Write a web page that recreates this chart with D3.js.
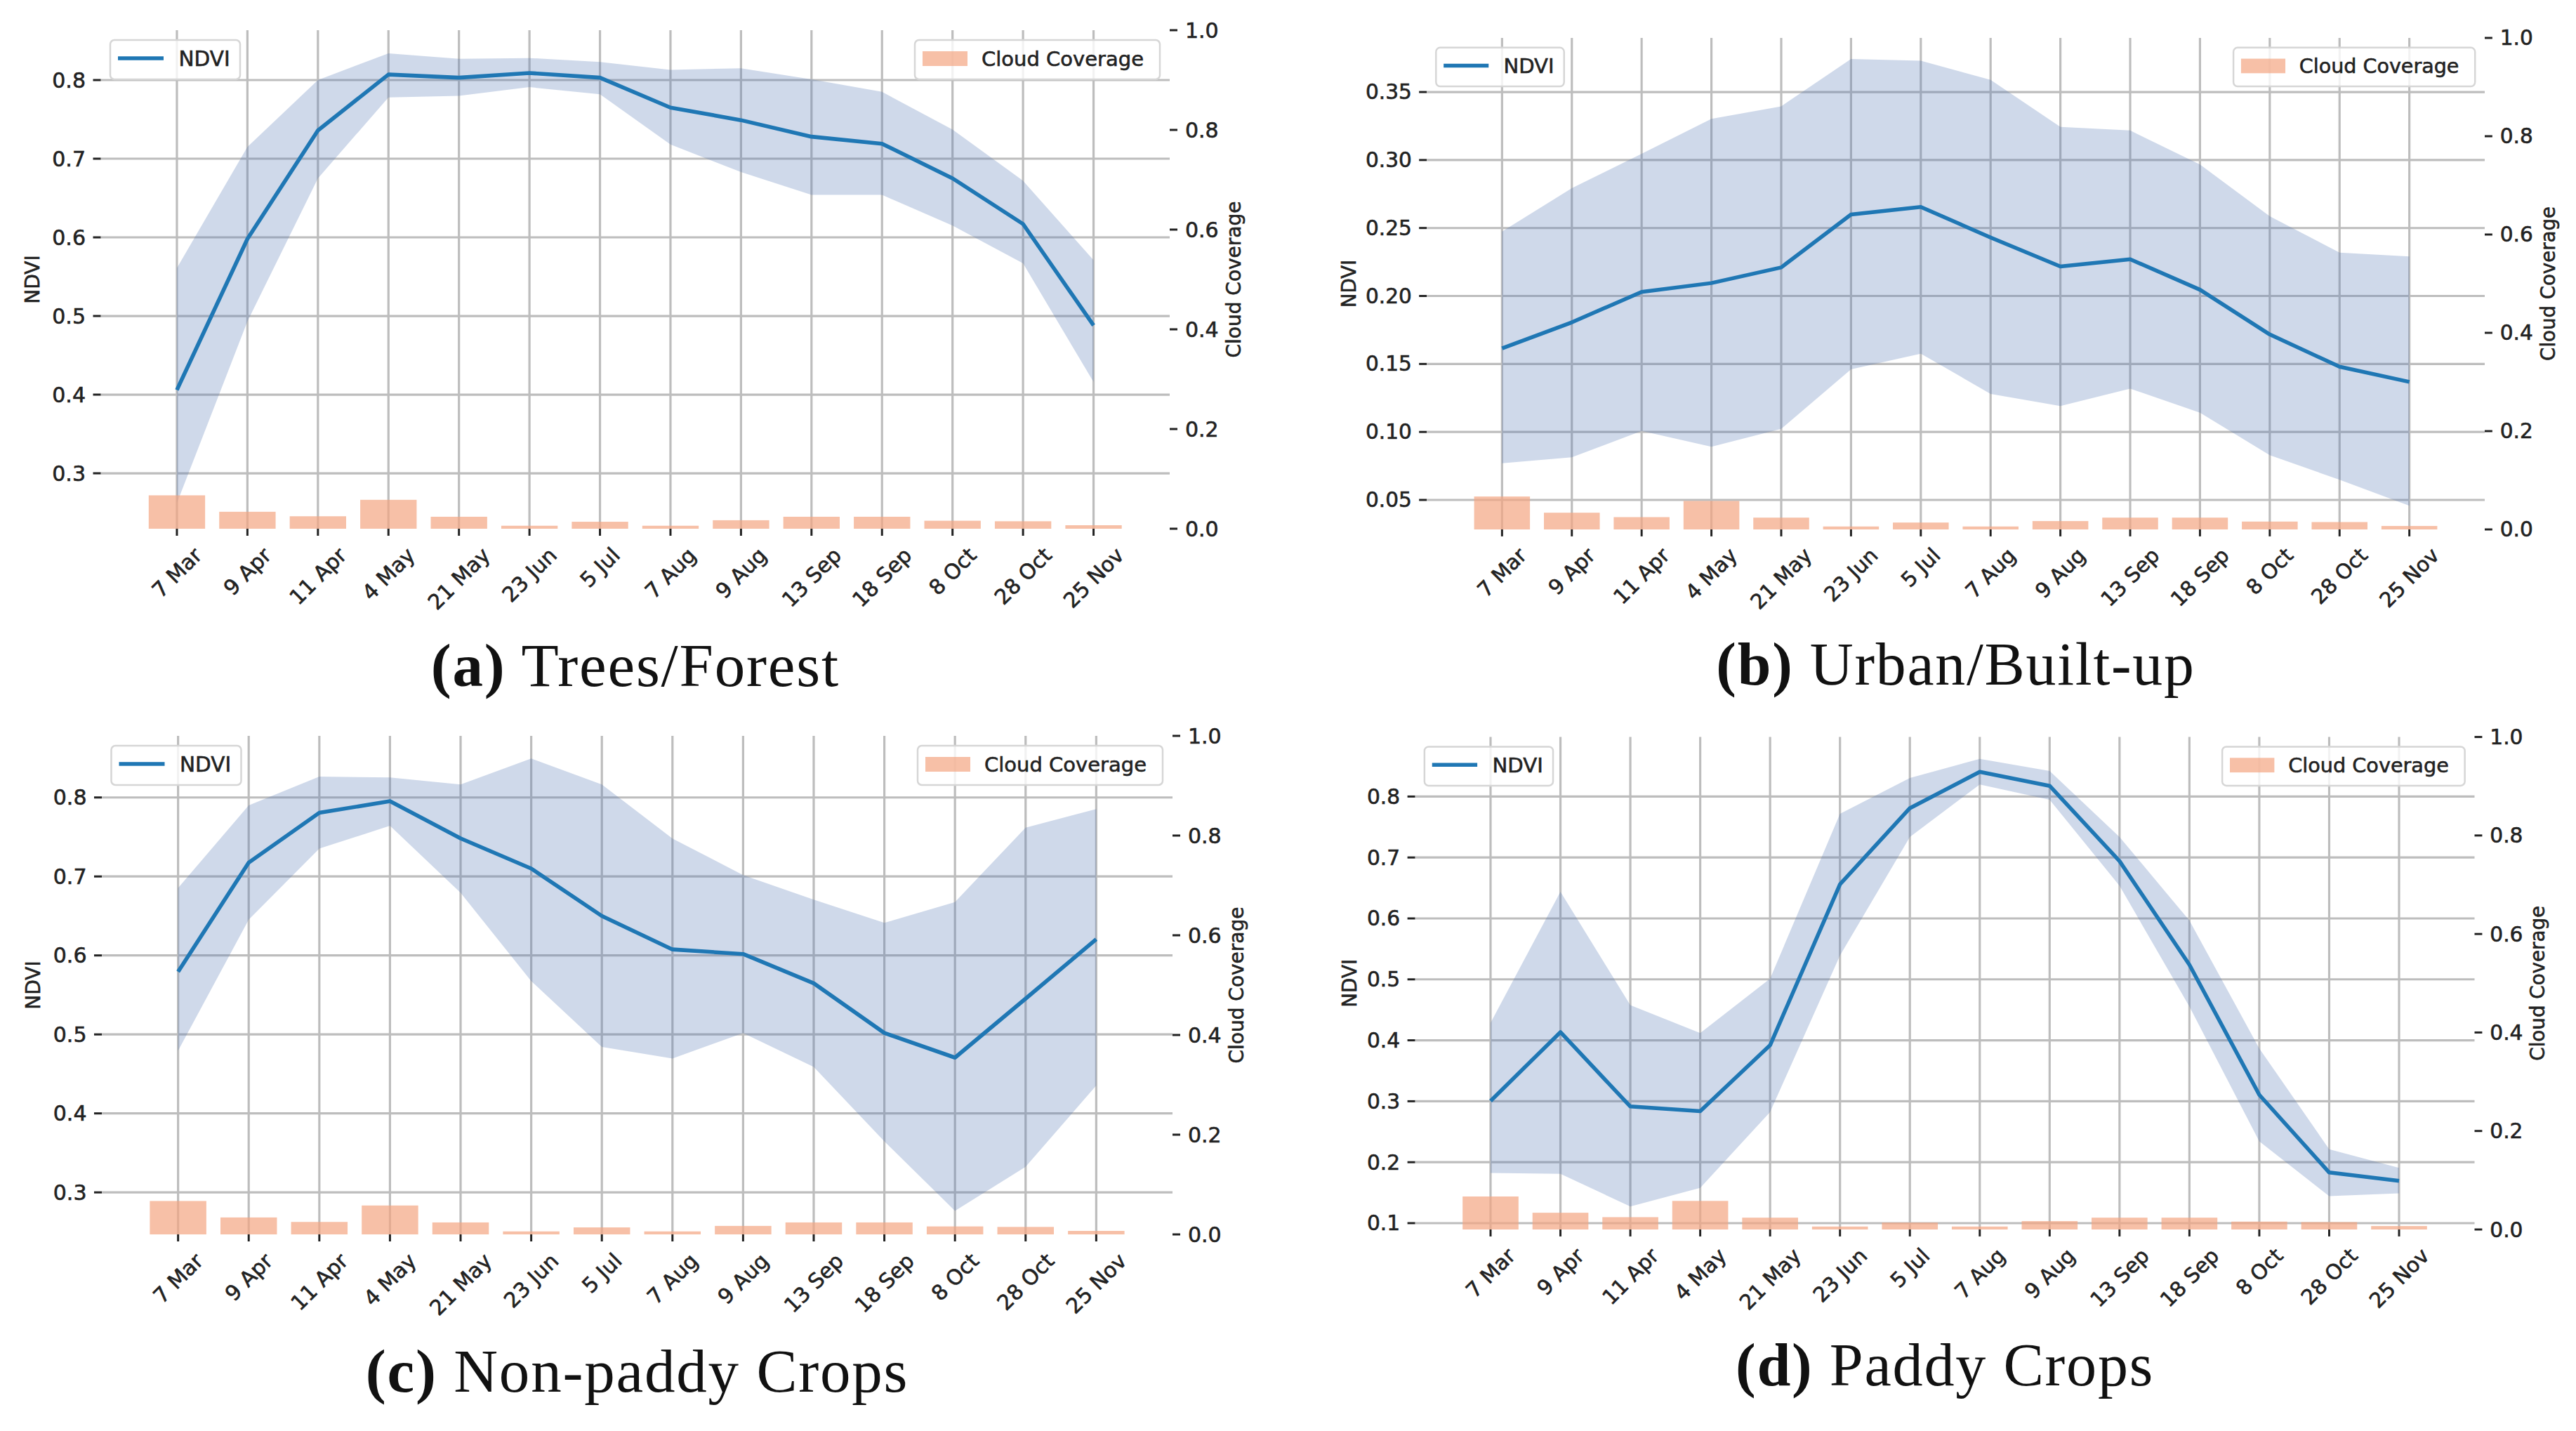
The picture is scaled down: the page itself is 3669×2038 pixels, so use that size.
<!DOCTYPE html>
<html><head><meta charset="utf-8">
<script src="https://cdn.jsdelivr.net/npm/d3@7/dist/d3.min.js"></script>
<style>body{margin:0;background:#fff}svg{display:block;background:#fff}
.sans{font-family:'DejaVu Sans',Verdana,sans-serif;fill:#222;stroke:#222;stroke-width:0.6px;paint-order:stroke}
</style>
</head><body>
<svg id="chart" width="3669" height="2038"></svg>
<script>
// ---------------- DATA ----------------
const dates = ["7 Mar","9 Apr","11 Apr","4 May","21 May","23 Jun","5 Jul","7 Aug","9 Aug","13 Sep","18 Sep","8 Oct","28 Oct","25 Nov"];
const cloudCoverage = [0.067,0.034,0.025,0.058,0.024,0.006,0.014,0.006,0.017,0.024,0.024,0.016,0.015,0.007];

const treesNdvi  = [0.406,0.598,0.736,0.807,0.803,0.809,0.803,0.765,0.749,0.728,0.719,0.675,0.617,0.488];
const treesUpper = [0.561,0.715,0.800,0.834,0.827,0.828,0.823,0.813,0.815,0.801,0.785,0.737,0.672,0.571];
const treesLower = [0.262,0.493,0.675,0.778,0.780,0.791,0.782,0.718,0.683,0.654,0.654,0.615,0.567,0.416];

const urbanNdvi  = [0.1615,0.1806,0.203,0.2095,0.221,0.2599,0.2655,0.243,0.2217,0.227,0.2046,0.1717,0.148,0.1368];
const urbanUpper = [0.2474,0.2793,0.3046,0.3303,0.3395,0.3743,0.373,0.3589,0.3243,0.3217,0.2967,0.2586,0.2319,0.229];
const urbanLower = [0.077,0.0813,0.1007,0.0891,0.1023,0.146,0.1576,0.128,0.119,0.1319,0.1141,0.0829,0.0648,0.0457];

const nonPaddyNdvi  = [0.5794,0.7176,0.7806,0.7953,0.7482,0.710,0.650,0.6076,0.6018,0.5647,0.5018,0.4706,0.5453,0.6206];
const nonPaddyUpper = [0.6853,0.790,0.8265,0.8253,0.8165,0.8494,0.8165,0.748,0.7018,0.6706,0.6412,0.6676,0.7618,0.7853];
const nonPaddyLower = [0.4794,0.6453,0.7353,0.7641,0.6794,0.5676,0.4841,0.4694,0.5018,0.4588,0.3647,0.2765,0.3324,0.4353];

const paddyNdvi  = [0.3005,0.4134,0.2914,0.2838,0.392,0.6559,0.7809,0.8404,0.8175,0.694,0.524,0.3105,0.1831,0.1694];
const paddyUpper = [0.4286,0.6437,0.4576,0.4119,0.5011,0.7718,0.8305,0.8618,0.8419,0.7337,0.5964,0.3867,0.2212,0.1907];
const paddyLower = [0.1823,0.1808,0.1274,0.158,0.2822,0.5392,0.7337,0.8198,0.7947,0.6536,0.4553,0.2342,0.1442,0.1488];

const treesTicks    = [0.3,0.4,0.5,0.6,0.7,0.8];
const urbanTicks    = [0.05,0.10,0.15,0.20,0.25,0.30,0.35];
const nonPaddyTicks = [0.3,0.4,0.5,0.6,0.7,0.8];
const paddyTicks    = [0.1,0.2,0.3,0.4,0.5,0.6,0.7,0.8];
const cloudTicks    = [0.0,0.2,0.4,0.6,0.8,1.0];

const treesRange    = [0.2295,0.8634];
const urbanRange    = [0.0283,0.3898];
const nonPaddyRange = [0.2468,0.8780];
const paddyRange    = [0.0896,0.8977];
const cloudRange    = [0,1];

const captionLetters = ["(a)","(b)","(c)","(d)"];
const captionTitles  = ["Trees/Forest","Urban/Built-up","Non-paddy Crops","Paddy Crops"];

// ---------------- LAYOUT / STYLE ----------------
const panels = [
  {mean:treesNdvi, up:treesUpper, lo:treesLower, ticks:treesTicks, range:treesRange, fmt:".1f"},
  {mean:urbanNdvi, up:urbanUpper, lo:urbanLower, ticks:urbanTicks, range:urbanRange, fmt:".2f"},
  {mean:nonPaddyNdvi, up:nonPaddyUpper, lo:nonPaddyLower, ticks:nonPaddyTicks, range:nonPaddyRange, fmt:".1f"},
  {mean:paddyNdvi, up:paddyUpper, lo:paddyLower, ticks:paddyTicks, range:paddyRange, fmt:".1f"}
];
const layout = [
  {left:143.5, right:1666,   top:43,     bottom:753,  s:1,     ylabOff:88},
  {left:2032,  right:3539,   top:54,     bottom:754,  s:0.986, ylabOff:102},
  {left:145,   right:1670,   top:1048,   bottom:1758, s:1,     ylabOff:88},
  {left:2015.5,right:3524.5, top:1049.6, bottom:1751, s:0.99,  ylabOff:84}
];
const C = {
  grid:"#bdbdbd", text:"#222222", line:"#1f77b4", fill:"#4c72b0", fillOpacity:0.27,
  bar:"#f4a582", barOpacity:0.7, legendEdge:"#d6d6d6"
};
const serifFont = "'Palatino Linotype','Book Antiqua','Liberation Serif','DejaVu Serif',serif";

const svg = d3.select("#chart");

panels.forEach((p, i) => {
  const L = layout[i], s = L.s;
  const g = svg.append("g");
  const x = d3.scalePoint().domain(dates).range([L.left, L.right]).padding(1.08);
  const y = d3.scaleLinear().domain(p.range).range([L.bottom, L.top]);
  const y2 = d3.scaleLinear().domain(cloudRange).range([L.bottom, L.top]);
  const step = x.step();

  // grid
  g.append("g").selectAll("line").data(p.ticks).join("line")
    .attr("x1", L.left).attr("x2", L.right)
    .attr("y1", d => y(d)).attr("y2", d => y(d))
    .attr("stroke", C.grid).attr("stroke-width", 3.2*s);
  g.append("g").selectAll("line").data(dates).join("line")
    .attr("x1", d => x(d)).attr("x2", d => x(d))
    .attr("y1", L.top).attr("y2", L.bottom)
    .attr("stroke", C.grid).attr("stroke-width", 3.2*s);

  // fill band
  const area = d3.area()
    .x((d, j) => x(dates[j]))
    .y0((d, j) => y(p.lo[j]))
    .y1((d, j) => y(p.up[j]));
  g.append("path").datum(p.mean).attr("d", area)
    .attr("fill", C.fill).attr("fill-opacity", C.fillOpacity);

  // line
  const line = d3.line().x((d, j) => x(dates[j])).y(d => y(d));
  g.append("path").datum(p.mean).attr("d", line)
    .attr("fill", "none").attr("stroke", C.line).attr("stroke-width", 5.6*s)
    .attr("stroke-linejoin", "round");

  // left axis ticks + labels
  const fmt = d3.format(p.fmt);
  const lt = g.append("g");
  lt.selectAll("line").data(p.ticks).join("line")
    .attr("x1", L.left - 11*s).attr("x2", L.left)
    .attr("y1", d => y(d)).attr("y2", d => y(d))
    .attr("stroke", C.text).attr("stroke-width", 3*s);
  lt.selectAll("text").data(p.ticks).join("text")
    .attr("class", "sans")
    .attr("x", L.left - 21.5*s).attr("y", d => y(d))
    .attr("text-anchor", "end").attr("dominant-baseline", "central")
    .attr("font-size", 30*s)
    .text(d => fmt(d));

  // NDVI label
  g.append("text").attr("class", "sans")
    .attr("transform", `translate(${L.left - L.ylabOff*s},${(L.top+L.bottom)/2}) rotate(-90)`)
    .attr("text-anchor", "middle")
    .attr("font-size", 28*s)
    .text("NDVI");

  // x ticks + labels
  const xt = g.append("g");
  xt.selectAll("line").data(dates).join("line")
    .attr("x1", d => x(d)).attr("x2", d => x(d))
    .attr("y1", L.bottom).attr("y2", L.bottom + 10*s)
    .attr("stroke", C.text).attr("stroke-width", 3*s);
  const xfs = 30*s;
  xt.selectAll("text").data(dates).join("text")
    .attr("class", "sans")
    .attr("font-size", xfs)
    .attr("text-anchor", "middle").attr("dominant-baseline", "central")
    .text(d => d)
    .each(function(d) {
      const w = this.getComputedTextLength();
      const H = (w + 0.78*xfs) * Math.SQRT1_2;
      d3.select(this).attr("transform",
        `translate(${x(d)},${L.bottom + 24*s + H/2}) rotate(-45)`);
    });

  // NDVI legend
  const lg = g.append("g").attr("transform", `translate(${L.left},${L.top})`);
  lg.append("rect").attr("x", 13.5*s).attr("y", 14*s).attr("width", 185*s).attr("height", 56*s)
    .attr("rx", 6*s).attr("fill", "#fff").attr("fill-opacity", 0.8)
    .attr("stroke", C.legendEdge).attr("stroke-width", 2.5*s);
  lg.append("line").attr("x1", 24.5*s).attr("x2", 89.5*s).attr("y1", 40*s).attr("y2", 40*s)
    .attr("stroke", C.line).attr("stroke-width", 5.6*s);
  lg.append("text").attr("class", "sans").attr("x", 111*s).attr("y", 51*s)
    .attr("font-size", 29.5*s).text("NDVI");

  // bars (twin axis)
  g.append("g").selectAll("rect").data(cloudCoverage).join("rect")
    .attr("x", (d, j) => x(dates[j]) - 0.4*step)
    .attr("width", 0.8*step)
    .attr("y", d => y2(d))
    .attr("height", d => y2(0) - y2(d))
    .attr("fill", C.bar).attr("fill-opacity", C.barOpacity);

  // right axis
  const rt = g.append("g");
  rt.selectAll("line").data(cloudTicks).join("line")
    .attr("x1", L.right).attr("x2", L.right + 11*s)
    .attr("y1", d => y2(d)).attr("y2", d => y2(d))
    .attr("stroke", C.text).attr("stroke-width", 3*s);
  rt.selectAll("text").data(cloudTicks).join("text")
    .attr("class", "sans")
    .attr("x", L.right + 22*s).attr("y", d => y2(d))
    .attr("dominant-baseline", "central")
    .attr("font-size", 30*s)
    .text(d => d3.format(".1f")(d));
  g.append("text").attr("class", "sans")
    .attr("transform", `translate(${L.right + 101*s},${(L.top+L.bottom)/2}) rotate(-90)`)
    .attr("text-anchor", "middle")
    .attr("font-size", 28*s)
    .text("Cloud Coverage");

  // cloud legend
  const cg = g.append("g").attr("transform", `translate(${L.right},${L.top})`);
  cg.append("rect").attr("x", -363*s).attr("y", 14*s).attr("width", 349*s).attr("height", 56*s)
    .attr("rx", 6*s).attr("fill", "#fff").attr("fill-opacity", 0.8)
    .attr("stroke", C.legendEdge).attr("stroke-width", 2.5*s);
  cg.append("rect").attr("x", -352*s).attr("y", 30*s).attr("width", 64*s).attr("height", 21*s)
    .attr("fill", C.bar).attr("fill-opacity", C.barOpacity);
  cg.append("text").attr("class", "sans").attr("x", -268*s).attr("y", 51*s)
    .attr("font-size", 29*s).text("Cloud Coverage");

  // caption
  const cap = g.append("text")
    .attr("x", (L.left + L.right)/2).attr("y", L.bottom + 224*s)
    .attr("text-anchor", "middle")
    .attr("font-family", serifFont).attr("font-size", 87*s).attr("fill", "#111")
    .attr("letter-spacing", 1.8*s);
  cap.append("tspan").attr("font-weight", "bold").text(captionLetters[i]);
  cap.append("tspan").text(" " + captionTitles[i]);
});
</script>
</body></html>
